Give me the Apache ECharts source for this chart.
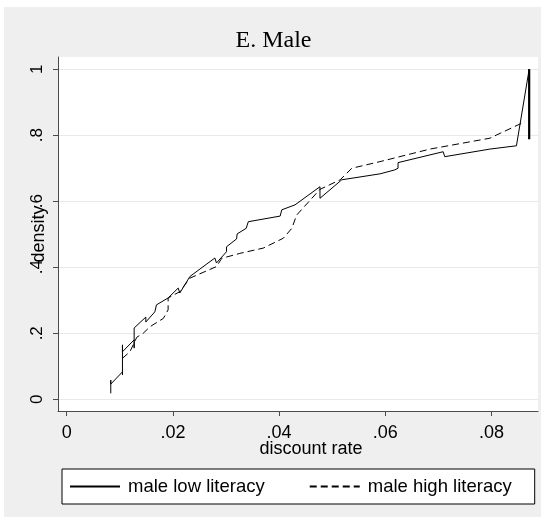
<!DOCTYPE html>
<html>
<head>
<meta charset="utf-8">
<script src="https://cdn.jsdelivr.net/npm/echarts@6/dist/echarts.min.js"></script>
<style>
html,body{margin:0;padding:0;background:#fff;}
#c{width:547px;height:523px;}
</style>
</head>
<body>
<div id="c"></div>
<script>
// ---- data ----
const titleText = 'E. Male';
const xName = 'discount rate';
const yName = 'density';
const seriesNames = ['male low literacy', 'male high literacy'];
const xTicks = [0, 0.02, 0.04, 0.06, 0.08];
const yTicks = [0, 0.2, 0.4, 0.6, 0.8, 1];

const lowX = [0.0083,0.0083,0.0083,0.0105,0.0105,0.0105,0.0105,0.0127,0.0127,0.0127,0.0149,0.0149,0.0166,0.0169,0.0191,0.0210,0.0213,0.0232,0.0279,0.0282,0.0301,0.0301,0.0320,0.0321,0.0338,0.0342,0.0402,0.0405,0.0430,0.0477,0.0477,0.0518,0.0590,0.0618,0.0624,0.0624,0.0709,0.0712,0.0712,0.0797,0.0847,0.0871,0.0871];
const lowY = [0.018,0.058,0.046,0.083,0.074,0.165,0.144,0.180,0.155,0.216,0.249,0.234,0.265,0.286,0.307,0.337,0.322,0.372,0.428,0.413,0.447,0.462,0.486,0.501,0.518,0.538,0.555,0.574,0.589,0.644,0.609,0.665,0.683,0.695,0.700,0.717,0.750,0.750,0.735,0.758,0.768,1.000,0.788];

const highX = [0.0105,0.0119,0.0132,0.0144,0.0157,0.0182,0.0191,0.0191,0.0213,0.0232,0.0235,0.0282,0.0292,0.0326,0.0370,0.0408,0.0424,0.0433,0.0477,0.0515,0.0537,0.0590,0.0684,0.0797,0.0810,0.0863];
const highY = [0.124,0.144,0.188,0.200,0.220,0.245,0.271,0.307,0.326,0.367,0.372,0.402,0.427,0.442,0.458,0.488,0.518,0.558,0.636,0.665,0.700,0.720,0.758,0.791,0.801,0.841];

// the heavy vertical stroke at the right end of the low-literacy line
const spikeX = [0.0871, 0.0871];
const spikeY = [1.000, 0.788];

const zip = (xs, ys) => xs.map((x, i) => [x, ys[i]]);
const fmt = v => { const s = String(+(+v).toFixed(2)); return s.replace(/^0\./, '.'); };

const SANS = "'Liberation Sans', Arial, Helvetica, sans-serif";
const SERIF = "'Liberation Serif', 'Times New Roman', serif";
const AXC = '#4a4a4a';

const chart = echarts.init(document.getElementById('c'), null, {renderer: 'canvas'});
chart.setOption({
  animation: false,
  backgroundColor: '#ffffff',
  graphic: [{
    type: 'rect', z: -100, silent: true,
    shape: {x: 4, y: 7, width: 537, height: 510},
    style: {fill: '#efefef'}
  }],
  title: {
    text: titleText, left: 'center', top: 24,
    textStyle: {fontFamily: SERIF, fontSize: 24, fontWeight: 'normal', color: '#000'}
  },
  grid: {
    left: 58, right: 9, top: 57, bottom: 112,
    show: true, backgroundColor: '#ffffff', borderWidth: 0,
    containLabel: false
  },
  xAxis: {
    type: 'value', min: -0.00164, max: 0.08876,
    name: xName, nameLocation: 'middle', nameGap: 29, nameMoveOverlap: false,
    nameTextStyle: {fontFamily: SANS, fontSize: 18, color: '#000', padding: [0, 0, 0, 26]},
    axisLine: {show: true, onZero: false, lineStyle: {color: AXC, width: 1}},
    axisTick: {show: true, length: 5, customValues: xTicks, lineStyle: {color: AXC}},
    axisLabel: {customValues: xTicks, formatter: fmt, margin: 13, fontFamily: SANS, fontSize: 18, color: '#000'},
    splitLine: {show: false}
  },
  yAxis: {
    type: 'value', min: -0.0355, max: 1.037,
    name: yName, nameLocation: 'middle', nameGap: 10, nameRotate: 90, nameMoveOverlap: false,
    nameTextStyle: {fontFamily: SANS, fontSize: 18, color: '#000'},
    axisLine: {show: true, onZero: false, lineStyle: {color: AXC, width: 1}},
    axisTick: {show: true, length: 5, customValues: yTicks, lineStyle: {color: AXC}},
    axisLabel: {customValues: yTicks, formatter: fmt, rotate: 90, margin: 12, fontFamily: SANS, fontSize: 17, color: '#000'},
    splitLine: {show: true, lineStyle: {color: '#e9e9e9', width: 1}}
  },
  legend: {
    left: 62, top: 469,
    orient: 'horizontal',
    data: seriesNames,
    itemWidth: 50, itemHeight: 14, itemGap: 44,
    padding: [8, 23, 8, 7],
    backgroundColor: '#ffffff', borderColor: '#000', borderWidth: 1, borderRadius: 0,
    itemStyle: {opacity: 0},
    textStyle: {fontFamily: SANS, fontSize: 18.5, color: '#000', padding: [0, 0, 0, 3]}
  },
  series: [
    {
      name: seriesNames[0], type: 'line', data: zip(lowX, lowY),
      symbol: 'none', smooth: false,
      lineStyle: {color: '#000', width: 1, type: 'solid'},
      itemStyle: {color: '#000'}
    },
    {
      name: seriesNames[1], type: 'line', data: zip(highX, highY),
      symbol: 'none', smooth: false,
      lineStyle: {color: '#000', width: 1, type: [7, 4]},
      itemStyle: {color: '#000'}
    },
    {
      name: 'spike', type: 'line', data: zip(spikeX, spikeY),
      symbol: 'none', lineStyle: {color: '#000', width: 2.2}, silent: true
    }
  ]
});
</script>
</body>
</html>
